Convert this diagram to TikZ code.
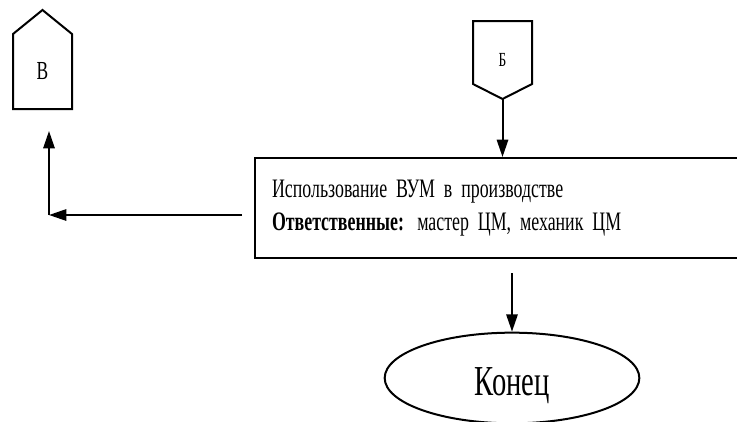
\documentclass[tikz,border=0pt]{standalone}
\usepackage{fontspec}
\setmainfont{Liberation Serif}
\newfontfamily\narrowfont[FakeStretch=0.67]{Liberation Serif}
\usetikzlibrary{arrows.meta,shapes.geometric,calc}

\begin{document}
\begin{tikzpicture}[x=0.75pt, y=-0.75pt, line width=1.5pt,
    offpage/.style={rectangle, inner sep=0pt, minimum width=42.75pt, font=\narrowfont},
    procbox/.style={rectangle, draw, align=left, text width=342pt, inner xsep=12.75pt, minimum height=75pt, font=\narrowfont\fontsize{20}{25}\selectfont},
    endoval/.style={ellipse, draw, inner sep=0pt, minimum width=191pt, minimum height=68pt, font=\narrowfont\fontsize{32}{36}\selectfont},
    flow/.style={-{Triangle[length=13pt,width=8.5pt]}}]
    \useasboundingbox (0,0) rectangle (737,421);

    \node [offpage, minimum height=54.75pt, font=\narrowfont\fontsize{19.5}{22}\selectfont] (V) at (42.5,71.5) {В};
    \node [offpage, minimum height=57pt, font=\narrowfont\fontsize{15}{18}\selectfont] (B) at (502.5,60) {Б};
    \draw (V.south west) -- (V.south east) -- (V.north east) -- ($(V.north)+(0,-24)$) -- (V.north west) -- cycle;
    \draw (B.north west) -- (B.north east) -- ($(B.south east)+(0,-15)$) -- (B.south) -- ($(B.south west)+(0,-15)$) -- cycle;

    \node [procbox] (use) at (500,208) {Использование ВУМ в производстве\\\textbf{Ответственные:} мастер ЦМ, механик ЦМ};
    \node [endoval] (end) at (512,378) {\raisebox{-6pt}[\height][\depth]{Конец}};
    \coordinate (corner) at (49,215);

    \begin{scope}[flow]
        \draw (B.south) -- (B.south |- use.north);
        \draw [shorten <=9pt] (use.west |- corner) -- (corner);
        \draw [shorten >=16.5pt] (corner) -- (corner |- V.south);
        \draw [shorten <=10.5pt] (end.north |- use.south) -- (end.north);
    \end{scope}
\end{tikzpicture}
\end{document}
